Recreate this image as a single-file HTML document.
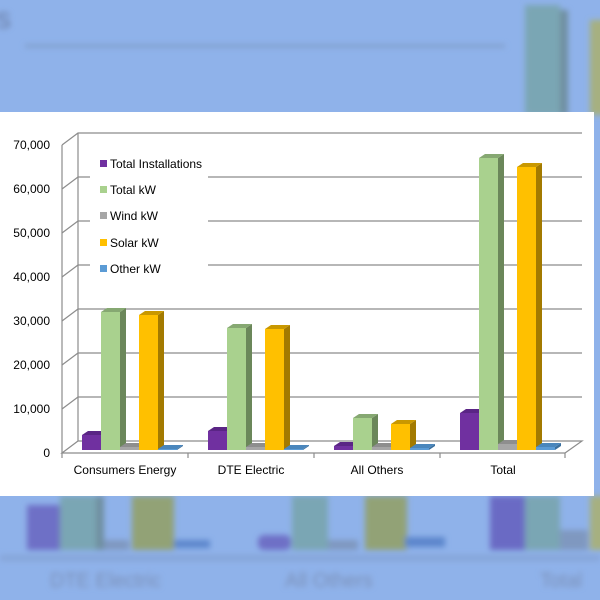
<!DOCTYPE html>
<html><head><meta charset="utf-8"><style>
html,body{margin:0;padding:0;width:600px;height:600px;overflow:hidden;background:#8fb2ea}
svg{display:block}
</style></head><body>
<svg width="600" height="600" viewBox="0 0 600 600" xmlns="http://www.w3.org/2000/svg" font-family="Liberation Sans, sans-serif">
<defs><filter id="b" x="-10%" y="-10%" width="120%" height="120%"><feGaussianBlur stdDeviation="3"/></filter></defs>
<rect width="600" height="600" fill="#8fb2ea"/>
<g filter="url(#b)">
<text x="-4" y="28" font-size="30" fill="#6a7fa8">s</text>
<line x1="25" y1="46" x2="505" y2="46" stroke="#7f9cc8" stroke-width="3"/>
<rect x="525" y="5" width="35" height="110" fill="#7aa6b4"/>
<rect x="560" y="10" width="8" height="105" fill="#6f8fa0"/>
<rect x="590" y="20" width="20" height="95" fill="#a6b080"/>
</g>
<g filter="url(#b)">
<line x1="0" y1="558" x2="600" y2="558" stroke="#86a5d8" stroke-width="6"/>
<rect x="27" y="505" width="33" height="45" fill="#6e6fc6"/>
<rect x="60" y="496" width="36" height="54" fill="#7aa6b4"/>
<rect x="96" y="496" width="8" height="54" fill="#6f8fa0"/>
<rect x="104" y="540" width="25" height="10" fill="#7f98c0"/>
<rect x="132" y="496" width="42" height="54" fill="#92a276"/>
<rect x="174" y="540" width="36" height="8" fill="#5c86cc"/>
<rect x="258" y="535" width="33" height="15" rx="6" fill="#6e6fc6"/>
<rect x="292" y="496" width="36" height="54" fill="#7aa6b4"/>
<rect x="328" y="540" width="30" height="10" fill="#7f98c0"/>
<rect x="365" y="496" width="42" height="54" fill="#92a276"/>
<rect x="405" y="537" width="40" height="10" fill="#5c86cc"/>
<rect x="490" y="496" width="35" height="54" fill="#6a6ac4"/>
<rect x="525" y="496" width="35" height="54" fill="#7aa6b4"/>
<rect x="560" y="530" width="28" height="20" fill="#7f98c0"/>
<rect x="590" y="496" width="20" height="54" fill="#a6b080"/>
<text x="50" y="587" font-size="20" fill="#7a90b8">DTE Electric</text>
<text x="285" y="587" font-size="20" fill="#7a90b8">All Others</text>
<text x="540" y="587" font-size="20" fill="#7a90b8">Total</text>
</g>
<rect x="0" y="112" width="594" height="384" fill="#fff"/>
<g stroke="#8c8c8c" stroke-width="1.2" fill="none">
<path d="M62 145 L78 133 L582 133"/>
<path d="M62 189 L78 177 L582 177"/>
<path d="M62 233 L78 221 L582 221"/>
<path d="M62 277 L78 265 L582 265"/>
<path d="M62 321 L78 309 L582 309"/>
<path d="M62 365 L78 353 L582 353"/>
<path d="M62 409 L78 397 L582 397"/>
<path d="M62 453 L78 441 L582 441 L565 453 Z"/>
<line x1="62" y1="145" x2="62" y2="453"/>
<line x1="78" y1="133" x2="78" y2="441"/>
<line x1="188" y1="453" x2="188" y2="458"/><line x1="314" y1="453" x2="314" y2="458"/><line x1="440" y1="453" x2="440" y2="458"/><line x1="565" y1="453" x2="565" y2="458"/><line x1="62" y1="453" x2="62" y2="458"/>
</g>
<rect x="90" y="150" width="118" height="130" fill="#fff"/>
<g font-size="12" fill="#000" text-anchor="end">
<text x="50" y="149">70,000</text><text x="50" y="193">60,000</text><text x="50" y="237">50,000</text><text x="50" y="281">40,000</text><text x="50" y="325">30,000</text><text x="50" y="369">20,000</text><text x="50" y="413">10,000</text><text x="50" y="457">0</text>
</g>
<g font-size="12" fill="#000" text-anchor="middle">
<text x="125" y="474">Consumers Energy</text><text x="251" y="474">DTE Electric</text><text x="377" y="474">All Others</text><text x="503" y="474">Total</text>
</g>
<g font-size="12" fill="#000">
<rect x="100" y="160" width="7" height="7" fill="#7030a0"/><text x="110" y="168">Total Installations</text>
<rect x="100" y="186" width="7" height="7" fill="#a9d18e"/><text x="110" y="194">Total kW</text>
<rect x="100" y="212" width="7" height="7" fill="#a6a6a6"/><text x="110" y="220">Wind kW</text>
<rect x="100" y="239" width="7" height="7" fill="#ffc000"/><text x="110" y="247">Solar kW</text>
<rect x="100" y="265" width="7" height="7" fill="#5b9bd5"/><text x="110" y="273">Other kW</text>
</g>
<!-- bars -->
<!-- group 1 -->
<g transform="translate(82 0)"><polygon points="19,450 25,446 25,431 19,435" fill="#4f1f75"/><polygon points="0,435 6,431 25,431 19,435" fill="#5a2585"/><rect y="435" width="19" height="15" fill="#7030a0"/></g>
<g transform="translate(101 0)"><polygon points="19,450 25,446 25,308 19,312" fill="#6b875a"/><polygon points="0,312 6,308 25,308 19,312" fill="#86a872"/><rect y="312" width="19" height="138" fill="#a9d18e"/></g>
<g transform="translate(120 0)"><polygon points="19,450 25,446 25,443 19,447" fill="#7a7a7a"/><polygon points="0,447 6,443 25,443 19,447" fill="#8e8e8e"/><rect y="447" width="19" height="3" fill="#a6a6a6"/></g>
<g transform="translate(139 0)"><polygon points="19,450 25,446 25,311 19,315" fill="#a37a00"/><polygon points="0,315 6,311 25,311 19,315" fill="#c99800"/><rect y="315" width="19" height="135" fill="#ffc000"/></g>
<g transform="translate(158 0)"><polygon points="19,450 25,446 25,445 19,449" fill="#3a6f9e"/><polygon points="0,449 6,445 25,445 19,449" fill="#4a86bc"/><rect y="449" width="19" height="1" fill="#5b9bd5"/></g>
<!-- group 2 -->
<g transform="translate(208 0)"><polygon points="19,450 25,446 25,427 19,431" fill="#4f1f75"/><polygon points="0,431 6,427 25,427 19,431" fill="#5a2585"/><rect y="431" width="19" height="19" fill="#7030a0"/></g>
<g transform="translate(227 0)"><polygon points="19,450 25,446 25,324 19,328" fill="#6b875a"/><polygon points="0,328 6,324 25,324 19,328" fill="#86a872"/><rect y="328" width="19" height="122" fill="#a9d18e"/></g>
<g transform="translate(246 0)"><polygon points="19,450 25,446 25,443 19,447" fill="#7a7a7a"/><polygon points="0,447 6,443 25,443 19,447" fill="#8e8e8e"/><rect y="447" width="19" height="3" fill="#a6a6a6"/></g>
<g transform="translate(265 0)"><polygon points="19,450 25,446 25,325 19,329" fill="#a37a00"/><polygon points="0,329 6,325 25,325 19,329" fill="#c99800"/><rect y="329" width="19" height="121" fill="#ffc000"/></g>
<g transform="translate(284 0)"><polygon points="19,450 25,446 25,445 19,449" fill="#3a6f9e"/><polygon points="0,449 6,445 25,445 19,449" fill="#4a86bc"/><rect y="449" width="19" height="1" fill="#5b9bd5"/></g>
<!-- group 3 -->
<g transform="translate(334 0)"><polygon points="19,450 25,446 25,442 19,446" fill="#4f1f75"/><polygon points="0,446 6,442 25,442 19,446" fill="#5a2585"/><rect y="446" width="19" height="4" fill="#7030a0"/></g>
<g transform="translate(353 0)"><polygon points="19,450 25,446 25,414 19,418" fill="#6b875a"/><polygon points="0,418 6,414 25,414 19,418" fill="#86a872"/><rect y="418" width="19" height="32" fill="#a9d18e"/></g>
<g transform="translate(372 0)"><polygon points="19,450 25,446 25,443 19,447" fill="#7a7a7a"/><polygon points="0,447 6,443 25,443 19,447" fill="#8e8e8e"/><rect y="447" width="19" height="3" fill="#a6a6a6"/></g>
<g transform="translate(391 0)"><polygon points="19,450 25,446 25,420 19,424" fill="#a37a00"/><polygon points="0,424 6,420 25,420 19,424" fill="#c99800"/><rect y="424" width="19" height="26" fill="#ffc000"/></g>
<g transform="translate(410 0)"><polygon points="19,450 25,446 25,444 19,448" fill="#3a6f9e"/><polygon points="0,448 6,444 25,444 19,448" fill="#4a86bc"/><rect y="448" width="19" height="2" fill="#5b9bd5"/></g>
<!-- group 4 -->
<g transform="translate(460 0)"><polygon points="19,450 25,446 25,409 19,413" fill="#4f1f75"/><polygon points="0,413 6,409 25,409 19,413" fill="#5a2585"/><rect y="413" width="19" height="37" fill="#7030a0"/></g>
<g transform="translate(479 0)"><polygon points="19,450 25,446 25,154 19,158" fill="#6b875a"/><polygon points="0,158 6,154 25,154 19,158" fill="#86a872"/><rect y="158" width="19" height="292" fill="#a9d18e"/></g>
<g transform="translate(498 0)"><polygon points="19,450 25,446 25,440 19,444" fill="#7a7a7a"/><polygon points="0,444 6,440 25,440 19,444" fill="#8e8e8e"/><rect y="444" width="19" height="6" fill="#a6a6a6"/></g>
<g transform="translate(517 0)"><polygon points="19,450 25,446 25,163 19,167" fill="#a37a00"/><polygon points="0,167 6,163 25,163 19,167" fill="#c99800"/><rect y="167" width="19" height="283" fill="#ffc000"/></g>
<g transform="translate(536 0)"><polygon points="19,450 25,446 25,443 19,447" fill="#3a6f9e"/><polygon points="0,447 6,443 25,443 19,447" fill="#4a86bc"/><rect y="447" width="19" height="3" fill="#5b9bd5"/></g>
</svg>
</body></html>
